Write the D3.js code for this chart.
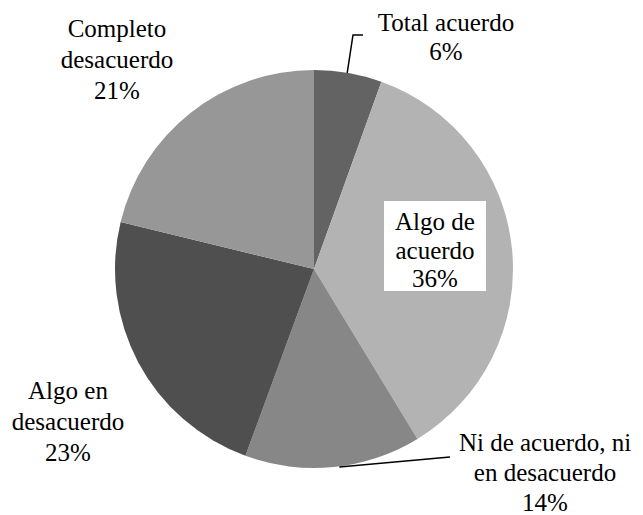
<!DOCTYPE html>
<html>
<head>
<meta charset="utf-8">
<script src="https://cdn.jsdelivr.net/npm/d3@7"></script>
<style>
  body { margin: 0; background: #fff; }
</style>
</head>
<body>
<div id="chart"></div>
<script>
// Categories and shares (percent), clockwise from 12 o'clock
const categories = ["Total acuerdo", "Algo de acuerdo", "Ni de acuerdo, ni en desacuerdo", "Algo en desacuerdo", "Completo desacuerdo"];
const values = [5.5, 35.8, 14.3, 23.2, 21.2];
const sliceColors = ["#636363", "#b3b3b3", "#878787", "#4f4f4f", "#979797"];

// Label text broken in lines as in the chart (percent line added from values)
const labelLines = [
  ["Total acuerdo"],
  ["Algo de", "acuerdo"],
  ["Ni de acuerdo, ni", "en desacuerdo"],
  ["Algo en", "desacuerdo"],
  ["Completo", "desacuerdo"]
];

const width = 643, height = 515;
const cx = 314, cy = 269, radius = 199;
const fontFamily = '"Liberation Serif", "DejaVu Serif", "Times New Roman", serif';

// label anchor (centre x, first baseline) and line gap
const labelPos = [
  { x: 446, y: 31, gap: 29 },
  { x: 435, y: 230, gap: 28.5 },
  { x: 545, y: 451, gap: 30 },
  { x: 68, y: 399, gap: 31 },
  { x: 117, y: 37, gap: 31 }
];

const svg = d3.select("#chart").append("svg")
  .attr("width", width)
  .attr("height", height);

const data = categories.map((c, i) => ({ name: c, value: values[i], idx: i }));

const pie = d3.pie()
  .value(d => d.value)
  .sort(null);

const arc = d3.arc()
  .innerRadius(0)
  .outerRadius(radius);

const arcs = pie(data);

const g = svg.append("g").attr("transform", `translate(${cx},${cy})`);

g.selectAll("path")
  .data(arcs)
  .join("path")
  .attr("d", arc)
  .attr("fill", d => sliceColors[d.data.idx]);

// Leader lines (only the two outside labels that have one)
const edgePoint = d => {
  let a = (d.startAngle + d.endAngle) / 2;
  return [cx + radius * Math.sin(a), cy - radius * Math.cos(a)];
};

// Total acuerdo: from slice edge up, then a short tick right
let p0 = edgePoint(arcs[0]);
svg.append("path")
  .attr("d", d3.line()([[p0[0] - 1, p0[1]], [353, 35], [363, 35]]))
  .attr("fill", "none")
  .attr("stroke", "#000")
  .attr("stroke-width", 1.5);

// Ni de acuerdo: from slice edge to the label
let p2 = edgePoint(arcs[2]);
svg.append("path")
  .attr("d", d3.line()([[p2[0] + 6, p2[1]], [450, 457]]))
  .attr("fill", "none")
  .attr("stroke", "#000")
  .attr("stroke-width", 1.5);

// white box behind the inside label
svg.append("rect")
  .attr("x", 384)
  .attr("y", 201)
  .attr("width", 102)
  .attr("height", 90)
  .attr("fill", "#fff");

labelLines.forEach((lines, i) => {
  let pos = labelPos[i];
  let all = lines.concat([Math.round(values[i]) + "%"]);
  let t = svg.append("text")
    .attr("text-anchor", "middle")
    .attr("font-family", fontFamily)
    .attr("font-size", 25)
    .attr("fill", "#000");
  all.forEach((ln, j) => {
    t.append("tspan")
      .attr("x", pos.x)
      .attr("y", pos.y + j * pos.gap)
      .text(ln);
  });
});
</script>
</body>
</html>
